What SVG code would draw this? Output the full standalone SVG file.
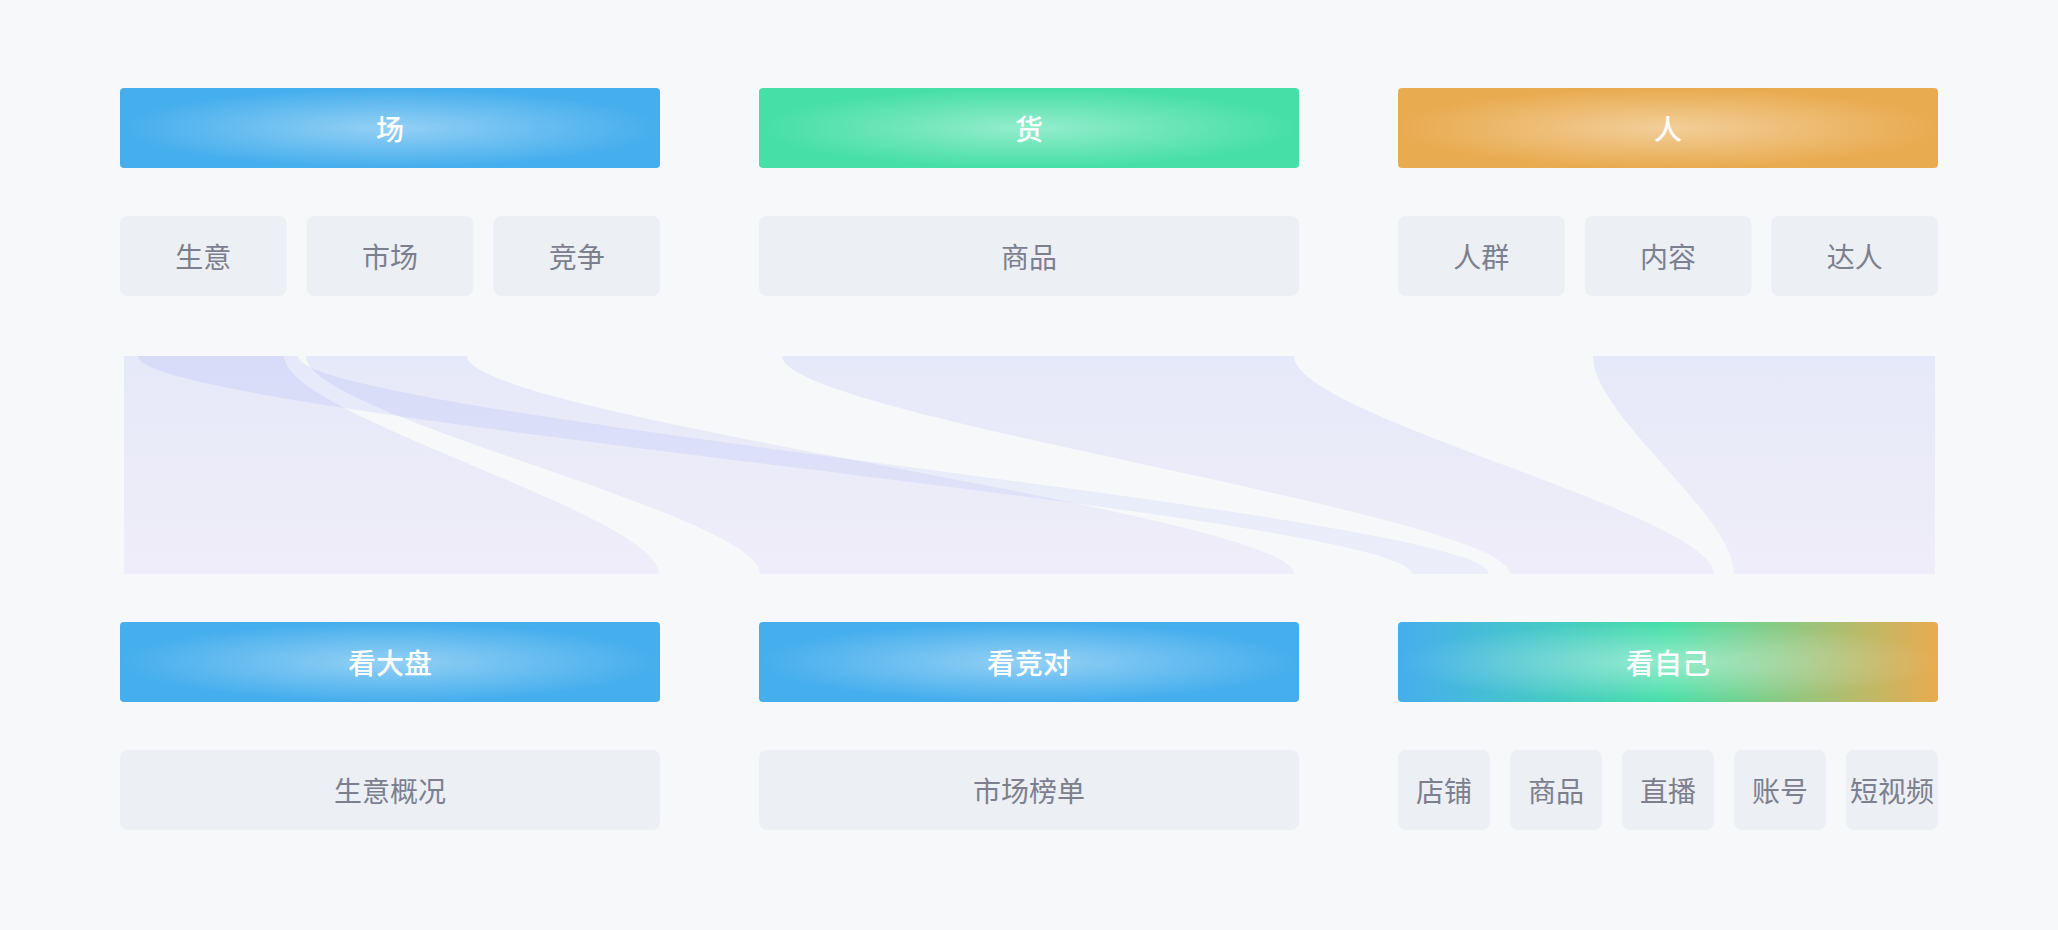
<svg xmlns="http://www.w3.org/2000/svg" width="2058" height="930" viewBox="0 0 2058 930">
<defs>
<radialGradient id="glow" cx="50%" cy="50%" r="50%">
<stop offset="0" stop-color="#ffffff" stop-opacity="0.42"/>
<stop offset="1" stop-color="#ffffff" stop-opacity="0"/>
</radialGradient>
<linearGradient id="mix" x1="0" y1="0" x2="1" y2="0">
<stop offset="0" stop-color="#45aeed"/>
<stop offset="0.5" stop-color="#46dfa7"/>
<stop offset="1" stop-color="#e9ab50"/>
</linearGradient>
<linearGradient id="flow" gradientUnits="userSpaceOnUse" x1="0" y1="356" x2="0" y2="574">
<stop offset="0" stop-color="rgb(90,110,240)" stop-opacity="0.11"/>
<stop offset="1" stop-color="rgb(150,120,235)" stop-opacity="0.085"/>
</linearGradient>
<linearGradient id="flowB" gradientUnits="userSpaceOnUse" x1="0" y1="356" x2="0" y2="574">
<stop offset="0" stop-color="rgb(90,110,240)" stop-opacity="0.11"/>
<stop offset="1" stop-color="rgb(100,130,245)" stop-opacity="0.08"/>
</linearGradient>
<style>
.blue{fill:#45aeed}
.green{fill:#46dfa7}
.orange{fill:#e9ab50}
.mixed{fill:url(#mix)}
.glow{fill:url(#glow)}
.sub{fill:#eceff4}
.ht{font-family:"Noto Sans CJK SC","Noto Sans",sans-serif;font-size:28px;font-weight:500;fill:#ffffff;text-anchor:middle;dominant-baseline:central}
.st{font-family:"Noto Sans CJK SC","Noto Sans",sans-serif;font-size:28px;font-weight:400;fill:#7c808e;text-anchor:middle;dominant-baseline:central}
.band{fill:url(#flow)}
.bandB{fill:url(#flowB)}
</style>
</defs>
<rect x="0" y="0" width="2058" height="930" fill="#f7f8fa"/>

<g id="connectors">
<path class="band" d="M124,356 L284,356 C284,416 659,514 659,574 L124,574 Z"/>
<path class="band" d="M306,356 L467,356 C467,416 1294,514 1294,574 L760,574 C760,514 306,416 306,356 Z"/>
<path class="band" d="M782,356 L1294,356 C1294,416 1714,514 1714,574 L1510,574 C1510,514 782,416 782,356 Z"/>
<path class="band" d="M1593,356 L1935,356 L1935,574 L1734,574 C1734,514 1593,416 1593,356 Z"/>
<path class="bandB" d="M138,356 L298,356 C298,416 1489,514 1489,574 L1412,574 C1412,514 138,416 138,356 Z"/>
</g>

<g id="node-chang">
<rect class="blue" x="120" y="88" width="540" height="80" rx="4"/>
<rect class="glow" x="120" y="88" width="540" height="80" rx="4"/>
<text class="ht" x="390" y="128">场</text>
</g>
<g id="node-huo">
<rect class="green" x="759" y="88" width="540" height="80" rx="4"/>
<rect class="glow" x="759" y="88" width="540" height="80" rx="4"/>
<text class="ht" x="1029" y="128">货</text>
</g>
<g id="node-ren">
<rect class="orange" x="1398" y="88" width="540" height="80" rx="4"/>
<rect class="glow" x="1398" y="88" width="540" height="80" rx="4"/>
<text class="ht" x="1668" y="128">人</text>
</g>

<g id="node-shengyi">
<rect class="sub" x="120" y="216" width="166.7" height="80" rx="8"/>
<text class="st" x="203.3" y="256">生意</text>
</g>
<g id="node-shichang">
<rect class="sub" x="306.7" y="216" width="166.7" height="80" rx="8"/>
<text class="st" x="390" y="256">市场</text>
</g>
<g id="node-jingzheng">
<rect class="sub" x="493.3" y="216" width="166.7" height="80" rx="8"/>
<text class="st" x="576.7" y="256">竞争</text>
</g>
<g id="node-shangpin-top">
<rect class="sub" x="759" y="216" width="540" height="80" rx="8"/>
<text class="st" x="1029" y="256">商品</text>
</g>
<g id="node-renqun">
<rect class="sub" x="1398" y="216" width="166.7" height="80" rx="8"/>
<text class="st" x="1481.3" y="256">人群</text>
</g>
<g id="node-neirong">
<rect class="sub" x="1584.7" y="216" width="166.7" height="80" rx="8"/>
<text class="st" x="1668" y="256">内容</text>
</g>
<g id="node-daren">
<rect class="sub" x="1771.3" y="216" width="166.7" height="80" rx="8"/>
<text class="st" x="1854.7" y="256">达人</text>
</g>

<g id="node-kandapan">
<rect class="blue" x="120" y="622" width="540" height="80" rx="4"/>
<rect class="glow" x="120" y="622" width="540" height="80" rx="4"/>
<text class="ht" x="390" y="662">看大盘</text>
</g>
<g id="node-kanjingdui">
<rect class="blue" x="759" y="622" width="540" height="80" rx="4"/>
<rect class="glow" x="759" y="622" width="540" height="80" rx="4"/>
<text class="ht" x="1029" y="662">看竞对</text>
</g>
<g id="node-kanziji">
<rect class="mixed" x="1398" y="622" width="540" height="80" rx="4"/>
<rect class="glow" x="1398" y="622" width="540" height="80" rx="4"/>
<text class="ht" x="1668" y="662">看自己</text>
</g>

<g id="node-shengyigaikuang">
<rect class="sub" x="120" y="750" width="540" height="80" rx="8"/>
<text class="st" x="390" y="790">生意概况</text>
</g>
<g id="node-shichangbangdan">
<rect class="sub" x="759" y="750" width="540" height="80" rx="8"/>
<text class="st" x="1029" y="790">市场榜单</text>
</g>
<g id="node-dianpu">
<rect class="sub" x="1398" y="750" width="92" height="80" rx="8"/>
<text class="st" x="1444" y="790">店铺</text>
</g>
<g id="node-shangpin">
<rect class="sub" x="1510" y="750" width="92" height="80" rx="8"/>
<text class="st" x="1556" y="790">商品</text>
</g>
<g id="node-zhibo">
<rect class="sub" x="1622" y="750" width="92" height="80" rx="8"/>
<text class="st" x="1668" y="790">直播</text>
</g>
<g id="node-zhanghao">
<rect class="sub" x="1734" y="750" width="92" height="80" rx="8"/>
<text class="st" x="1780" y="790">账号</text>
</g>
<g id="node-duanshipin">
<rect class="sub" x="1846" y="750" width="92" height="80" rx="8"/>
<text class="st" x="1892" y="790">短视频</text>
</g>
</svg>
